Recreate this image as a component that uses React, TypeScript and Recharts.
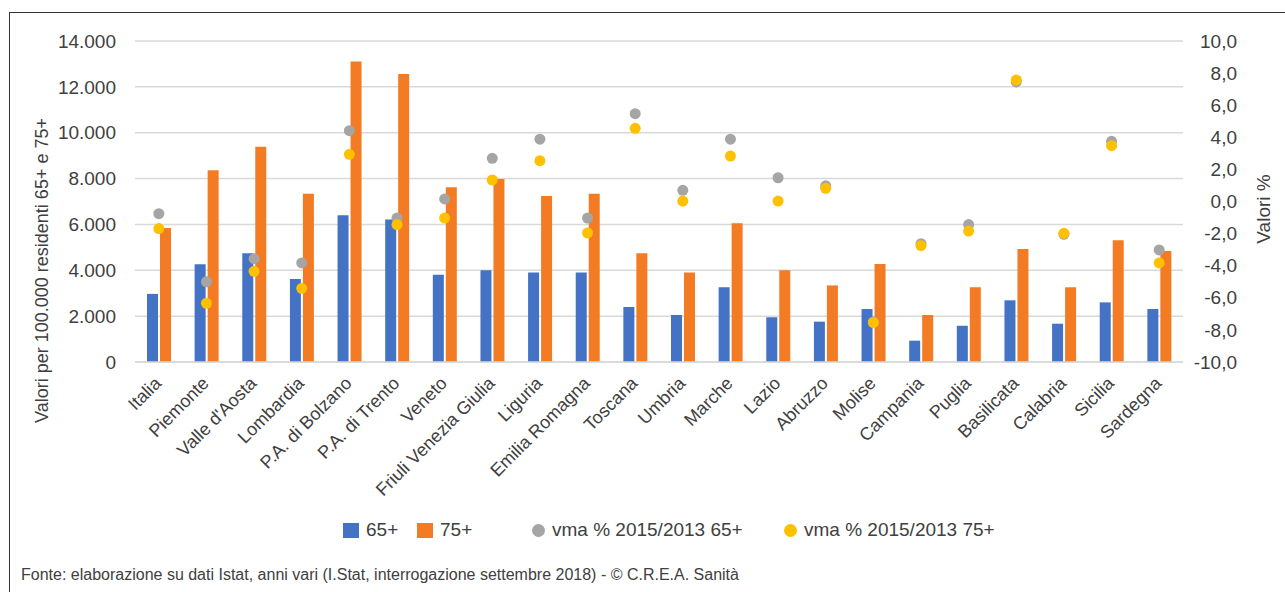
import { Bar, CartesianGrid, ComposedChart, Label, Legend, Line, XAxis, YAxis } from 'recharts'

const REGIONS = [
  'Italia',
  'Piemonte',
  "Valle d'Aosta",
  'Lombardia',
  'P.A. di Bolzano',
  'P.A. di Trento',
  'Veneto',
  'Friuli Venezia Giulia',
  'Liguria',
  'Emilia Romagna',
  'Toscana',
  'Umbria',
  'Marche',
  'Lazio',
  'Abruzzo',
  'Molise',
  'Campania',
  'Puglia',
  'Basilicata',
  'Calabria',
  'Sicilia',
  'Sardegna',
]

// valori per 100.000 residenti
const RATE_65 = [2970, 4260, 4740, 3620, 6400, 6220, 3800, 4000, 3900, 3900, 2400, 2050, 3260, 1950, 1760, 2310, 930, 1580, 2690, 1670, 2600, 2310]
const RATE_75 = [5840, 8360, 9390, 7340, 13110, 12560, 7620, 7980, 7240, 7340, 4740, 3900, 6050, 4000, 3340, 4270, 2050, 3260, 4930, 3260, 5310, 4840]

// variazione media annua % 2015/2013
const VMA_65 = [-0.76, -5.0, -3.56, -3.83, 4.41, -1.03, 0.16, 2.69, 3.88, -1.03, 5.47, 0.7, 3.88, 1.48, 0.98, -7.5, -2.63, -1.44, 7.45, -2.04, 3.75, -3.02]
const VMA_75 = [-1.69, -6.34, -4.35, -5.41, 2.94, -1.44, -1.03, 1.34, 2.54, -1.96, 4.56, 0.03, 2.83, 0.03, 0.82, -7.55, -2.75, -1.84, 7.57, -1.98, 3.48, -3.83]

const LEFT_TICKS = [0, 2000, 4000, 6000, 8000, 10000, 12000, 14000]
const RIGHT_TICKS = [-10, -8, -6, -4, -2, 0, 2, 4, 6, 8, 10]

const BLUE = '#4472C4'
const ORANGE = '#F37B23'
const GREY = '#A5A5A5'
const YELLOW = '#FFC000'
const TEXT = '#404040'
const FONT = "'Liberation Sans', Arial, sans-serif"

const data = REGIONS.map((region, i) => ({
  region,
  r65: RATE_65[i],
  r75: RATE_75[i],
  v65: VMA_65[i],
  v75: VMA_75[i],
}))

const formatThousands = (value: number) => String(value).replace(/\B(?=(\d{3})+(?!\d))/g, '.')
const formatPct = (value: number) => value.toFixed(1).replace('.', ',')

const CategoryTick = ({ x, y, payload }: any) => (
  <g transform={`translate(${x - 1},${y + 10})`}>
    <text x={0} y={0} dy="0.35em" textAnchor="end" transform="rotate(-45)" fill={TEXT} fontSize={18} fontFamily={FONT}>
      {payload.value}
    </text>
  </g>
)

const RightTick = ({ x, y, payload }: any) => (
  <text x={x + 52} y={y} dy="0.35em" textAnchor="end" fill={TEXT} fontSize={19} fontFamily={FONT}>
    {formatPct(payload.value)}
  </text>
)

const LeftTitle = ({ viewBox }: any) => {
  const cx = viewBox.x + 42
  const cy = viewBox.y + viewBox.height / 2 + 69
  return (
    <text x={cx} y={cy} dy="0.35em" textAnchor="middle" transform={`rotate(-90, ${cx}, ${cy})`} fill={TEXT} fontSize={18} fontFamily={FONT}>
      Valori per 100.000 residenti 65+ e 75+
    </text>
  )
}

const RightTitle = ({ viewBox }: any) => {
  const cx = viewBox.x + 80
  const cy = 209
  return (
    <text x={cx} y={cy} dy="0.35em" textAnchor="middle" transform={`rotate(-90, ${cx}, ${cy})`} fill={TEXT} fontSize={19} fontFamily={FONT}>
      Valori %
    </text>
  )
}

const legendItems = [
  { label: '65+', color: BLUE, shape: 'square', left: 343 },
  { label: '75+', color: ORANGE, shape: 'square', left: 417 },
  { label: 'vma % 2015/2013 65+', color: GREY, shape: 'circle', left: 532 },
  { label: 'vma % 2015/2013 75+', color: YELLOW, shape: 'circle', left: 784 },
]

const LegendContent = () => (
  <div style={{ position: 'relative', height: 40, fontFamily: FONT, fontSize: 19, color: TEXT }}>
    {legendItems.map((item) => (
      <div
        key={item.label}
        style={{ position: 'absolute', left: item.left, top: 0, height: 40, display: 'flex', alignItems: 'center', whiteSpace: 'nowrap' }}
      >
        <span
          style={{
            display: 'inline-block',
            width: item.shape === 'square' ? 16 : 13,
            height: item.shape === 'square' ? 15 : 13,
            borderRadius: item.shape === 'square' ? 0 : '50%',
            background: item.color,
            marginRight: 7,
          }}
        />
        <span>{item.label}</span>
      </div>
    ))}
  </div>
)

function App() {
  return (
    <div style={{ position: 'fixed', left: 0, top: 0, width: 1285, height: 592, background: '#fff', overflow: 'hidden' }}>
      <div
        style={{
          position: 'absolute',
          left: 9,
          top: 12,
          width: 1290,
          height: 600,
          borderTop: '1.5px solid #333',
          borderLeft: '1.5px solid #333',
        }}
      />
      <div style={{ position: 'absolute', left: 0, top: 0 }}>
        <ComposedChart
          width={1285}
          height={560}
          data={data}
          margin={{ top: 41, right: 0, bottom: 10, left: 0 }}
          barSize={11}
          barGap={2}
        >
          <CartesianGrid vertical={false} stroke="#D9D9D9" strokeWidth={1.5} yAxisId="left" />
          <XAxis
            dataKey="region"
            interval={0}
            height={148}
            tickLine={false}
            axisLine={{ stroke: '#D9D9D9', strokeWidth: 1.5 }}
            tick={<CategoryTick />}
          />
          <YAxis
            yAxisId="left"
            width={135}
            domain={[0, 14000]}
            ticks={LEFT_TICKS}
            tickFormatter={formatThousands}
            axisLine={false}
            tickLine={false}
            tickSize={0}
            tickMargin={19}
            tick={{ fill: TEXT, fontSize: 19, fontFamily: FONT }}
          >
            <Label content={<LeftTitle />} />
          </YAxis>
          <YAxis
            yAxisId="right"
            orientation="right"
            width={102}
            domain={[-10, 10]}
            ticks={RIGHT_TICKS}
            axisLine={false}
            tickLine={false}
            tickSize={0}
            tick={<RightTick />}
          >
            <Label content={<RightTitle />} />
          </YAxis>
          <Legend verticalAlign="bottom" height={40} content={<LegendContent />} />
          <Bar yAxisId="left" dataKey="r65" name="65+" fill={BLUE} isAnimationActive={false} />
          <Bar yAxisId="left" dataKey="r75" name="75+" fill={ORANGE} isAnimationActive={false} />
          <Line
            yAxisId="right"
            dataKey="v65"
            name="vma % 2015/2013 65+"
            stroke="none"
            dot={{ r: 5.5, fill: GREY, stroke: 'none' }}
            activeDot={false}
            isAnimationActive={false}
          />
          <Line
            yAxisId="right"
            dataKey="v75"
            name="vma % 2015/2013 75+"
            stroke="none"
            dot={{ r: 5.5, fill: YELLOW, stroke: 'none' }}
            activeDot={false}
            isAnimationActive={false}
          />
        </ComposedChart>
      </div>
      <div
        style={{
          position: 'absolute',
          left: 21,
          top: 566,
          fontFamily: FONT,
          fontSize: 16,
          color: TEXT,
          whiteSpace: 'nowrap',
        }}
      >
        Fonte: elaborazione su dati Istat, anni vari (I.Stat, interrogazione settembre 2018) - © C.R.E.A. Sanità
      </div>
    </div>
  )
}

export default App
